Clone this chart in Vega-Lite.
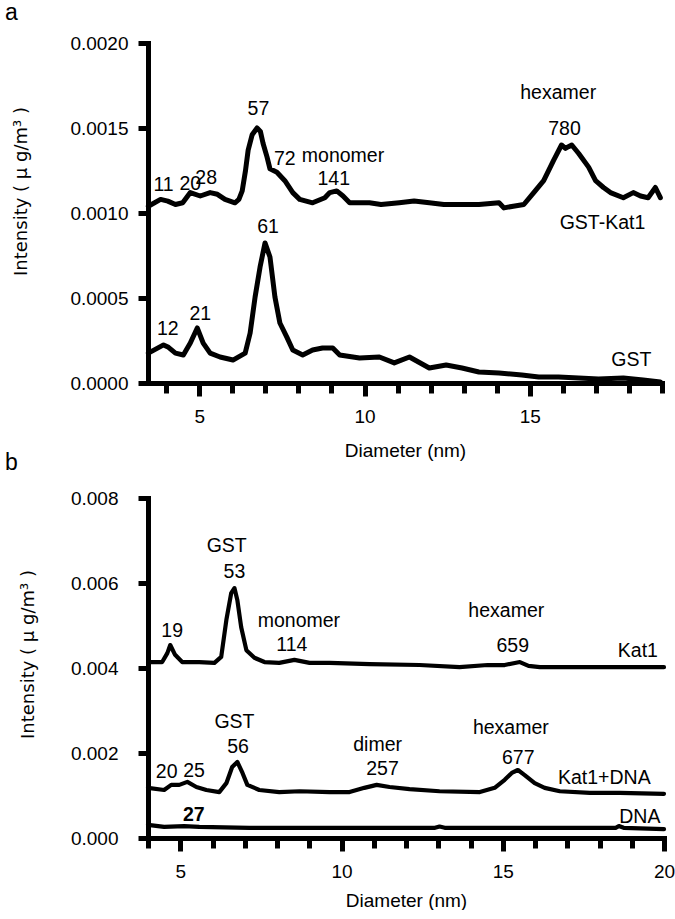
{
  "$schema": "https://vega.github.io/schema/vega-lite/v6.json",
  "padding": {"left": 5, "top": 2, "right": 0, "bottom": 0},
  "background": "white",
  "config": {
    "font": "Liberation Sans",
    "view": {"stroke": null},
    "axis": {
      "domainColor": "black", "domainWidth": 5, "domainCap": "square",
      "tickColor": "black", "tickWidth": 5,
      "labelFont": "Liberation Sans", "labelFontSize": 19, "labelColor": "black",
      "titleFont": "Liberation Sans", "titleFontSize": 19, "titleFontWeight": "normal", "titleColor": "black",
      "grid": false, "labelFlush": false, "labelOverlap": false, "labelBound": false
    },
    "title": {"font": "Liberation Sans", "fontSize": 23, "fontWeight": "normal", "color": "black", "anchor": "start", "frame": "group", "offset": 0}
  },
  "datasets": {
    "a_lines": [
      {"series": "GST-Kat1", "d": 3.46, "v": 0.00104},
      {"series": "GST-Kat1", "d": 3.83, "v": 0.00108},
      {"series": "GST-Kat1", "d": 4.05, "v": 0.00107},
      {"series": "GST-Kat1", "d": 4.28, "v": 0.00105},
      {"series": "GST-Kat1", "d": 4.5, "v": 0.00106},
      {"series": "GST-Kat1", "d": 4.73, "v": 0.00112},
      {"series": "GST-Kat1", "d": 5.03, "v": 0.0011},
      {"series": "GST-Kat1", "d": 5.33, "v": 0.00112},
      {"series": "GST-Kat1", "d": 5.55, "v": 0.00111},
      {"series": "GST-Kat1", "d": 5.78, "v": 0.00108},
      {"series": "GST-Kat1", "d": 6.08, "v": 0.00106},
      {"series": "GST-Kat1", "d": 6.2, "v": 0.00108},
      {"series": "GST-Kat1", "d": 6.3, "v": 0.00113},
      {"series": "GST-Kat1", "d": 6.4, "v": 0.00125},
      {"series": "GST-Kat1", "d": 6.48, "v": 0.00137},
      {"series": "GST-Kat1", "d": 6.6, "v": 0.00146},
      {"series": "GST-Kat1", "d": 6.75, "v": 0.0015},
      {"series": "GST-Kat1", "d": 6.85, "v": 0.00148},
      {"series": "GST-Kat1", "d": 6.93, "v": 0.00141},
      {"series": "GST-Kat1", "d": 7.05, "v": 0.00133},
      {"series": "GST-Kat1", "d": 7.14, "v": 0.00126},
      {"series": "GST-Kat1", "d": 7.35, "v": 0.00124},
      {"series": "GST-Kat1", "d": 7.59, "v": 0.00119},
      {"series": "GST-Kat1", "d": 7.83, "v": 0.00112},
      {"series": "GST-Kat1", "d": 8.04, "v": 0.00108},
      {"series": "GST-Kat1", "d": 8.43, "v": 0.00106},
      {"series": "GST-Kat1", "d": 8.8, "v": 0.00109},
      {"series": "GST-Kat1", "d": 8.95, "v": 0.00112},
      {"series": "GST-Kat1", "d": 9.16, "v": 0.00113},
      {"series": "GST-Kat1", "d": 9.35, "v": 0.0011},
      {"series": "GST-Kat1", "d": 9.55, "v": 0.00106},
      {"series": "GST-Kat1", "d": 10.15, "v": 0.00106},
      {"series": "GST-Kat1", "d": 10.5, "v": 0.00105},
      {"series": "GST-Kat1", "d": 11.05, "v": 0.00106},
      {"series": "GST-Kat1", "d": 11.5, "v": 0.00107},
      {"series": "GST-Kat1", "d": 11.96, "v": 0.00106},
      {"series": "GST-Kat1", "d": 12.4, "v": 0.00105},
      {"series": "GST-Kat1", "d": 12.86, "v": 0.00105},
      {"series": "GST-Kat1", "d": 13.46, "v": 0.00105},
      {"series": "GST-Kat1", "d": 14.07, "v": 0.00106},
      {"series": "GST-Kat1", "d": 14.22, "v": 0.00103},
      {"series": "GST-Kat1", "d": 14.5, "v": 0.00104},
      {"series": "GST-Kat1", "d": 14.82, "v": 0.00105},
      {"series": "GST-Kat1", "d": 15.12, "v": 0.00112},
      {"series": "GST-Kat1", "d": 15.42, "v": 0.00119},
      {"series": "GST-Kat1", "d": 15.72, "v": 0.00131},
      {"series": "GST-Kat1", "d": 15.96, "v": 0.0014},
      {"series": "GST-Kat1", "d": 16.08, "v": 0.00138},
      {"series": "GST-Kat1", "d": 16.17, "v": 0.00139},
      {"series": "GST-Kat1", "d": 16.27, "v": 0.0014},
      {"series": "GST-Kat1", "d": 16.48, "v": 0.00135},
      {"series": "GST-Kat1", "d": 16.78, "v": 0.00127},
      {"series": "GST-Kat1", "d": 16.99, "v": 0.00119},
      {"series": "GST-Kat1", "d": 17.23, "v": 0.00115},
      {"series": "GST-Kat1", "d": 17.44, "v": 0.00112},
      {"series": "GST-Kat1", "d": 17.83, "v": 0.00109},
      {"series": "GST-Kat1", "d": 18.13, "v": 0.00112},
      {"series": "GST-Kat1", "d": 18.35, "v": 0.0011},
      {"series": "GST-Kat1", "d": 18.58, "v": 0.00109},
      {"series": "GST-Kat1", "d": 18.8, "v": 0.00115},
      {"series": "GST-Kat1", "d": 18.95, "v": 0.00109},
      {"series": "GST", "d": 3.46, "v": 0.000176},
      {"series": "GST", "d": 3.92, "v": 0.000224},
      {"series": "GST", "d": 4.07, "v": 0.00021},
      {"series": "GST", "d": 4.28, "v": 0.000176},
      {"series": "GST", "d": 4.52, "v": 0.000165},
      {"series": "GST", "d": 4.73, "v": 0.000235},
      {"series": "GST", "d": 4.94, "v": 0.000324},
      {"series": "GST", "d": 5.12, "v": 0.000235},
      {"series": "GST", "d": 5.33, "v": 0.000176},
      {"series": "GST", "d": 5.63, "v": 0.000153},
      {"series": "GST", "d": 6.02, "v": 0.000135},
      {"series": "GST", "d": 6.39, "v": 0.000176},
      {"series": "GST", "d": 6.54, "v": 0.000294},
      {"series": "GST", "d": 6.69, "v": 0.000506},
      {"series": "GST", "d": 6.84, "v": 0.000682},
      {"series": "GST", "d": 6.99, "v": 0.000824},
      {"series": "GST", "d": 7.14, "v": 0.000741},
      {"series": "GST", "d": 7.29, "v": 0.000506},
      {"series": "GST", "d": 7.44, "v": 0.000353},
      {"series": "GST", "d": 7.65, "v": 0.00027},
      {"series": "GST", "d": 7.83, "v": 0.000194},
      {"series": "GST", "d": 8.13, "v": 0.000165},
      {"series": "GST", "d": 8.43, "v": 0.000194},
      {"series": "GST", "d": 8.73, "v": 0.000206},
      {"series": "GST", "d": 9.04, "v": 0.000206},
      {"series": "GST", "d": 9.25, "v": 0.000165},
      {"series": "GST", "d": 9.85, "v": 0.000147},
      {"series": "GST", "d": 10.45, "v": 0.000153},
      {"series": "GST", "d": 10.9, "v": 0.000118},
      {"series": "GST", "d": 11.36, "v": 0.000153},
      {"series": "GST", "d": 11.96, "v": 0.000088},
      {"series": "GST", "d": 12.47, "v": 0.000106},
      {"series": "GST", "d": 12.95, "v": 0.000088},
      {"series": "GST", "d": 13.46, "v": 0.000065},
      {"series": "GST", "d": 14.07, "v": 0.000059},
      {"series": "GST", "d": 14.76, "v": 0.000047},
      {"series": "GST", "d": 15.27, "v": 0.000035},
      {"series": "GST", "d": 15.87, "v": 0.000035},
      {"series": "GST", "d": 16.48, "v": 0.00003},
      {"series": "GST", "d": 17.08, "v": 0.000024},
      {"series": "GST", "d": 17.83, "v": 0.00003},
      {"series": "GST", "d": 18.43, "v": 0.000018},
      {"series": "GST", "d": 18.95, "v": 0.000006}
    ],
    "a_text": [
      {"d": 3.92, "v": 0.001165, "label": "11"},
      {"d": 4.73, "v": 0.001168, "label": "20"},
      {"d": 5.21, "v": 0.001206, "label": "28"},
      {"d": 6.79, "v": 0.001609, "label": "57"},
      {"d": 7.59, "v": 0.001315, "label": "72"},
      {"d": 9.35, "v": 0.001335, "label": "monomer"},
      {"d": 9.07, "v": 0.0012, "label": "141"},
      {"d": 15.86, "v": 0.001706, "label": "hexamer"},
      {"d": 16.05, "v": 0.001497, "label": "780"},
      {"d": 17.2, "v": 0.000944, "label": "GST-Kat1"},
      {"d": 7.08, "v": 0.000918, "label": "61"},
      {"d": 4.05, "v": 0.000315, "label": "12"},
      {"d": 5.03, "v": 0.000403, "label": "21"},
      {"d": 18.07, "v": 0.000135, "label": "GST"}
    ],
    "b_lines": [
      {"series": "Kat1", "d": 4.0, "v": 0.00414},
      {"series": "Kat1", "d": 4.44, "v": 0.00414},
      {"series": "Kat1", "d": 4.6, "v": 0.00435},
      {"series": "Kat1", "d": 4.69, "v": 0.00454},
      {"series": "Kat1", "d": 4.84, "v": 0.00431},
      {"series": "Kat1", "d": 5.06, "v": 0.00414},
      {"series": "Kat1", "d": 5.59, "v": 0.00414},
      {"series": "Kat1", "d": 6.06, "v": 0.00412},
      {"series": "Kat1", "d": 6.27, "v": 0.00426},
      {"series": "Kat1", "d": 6.43, "v": 0.00513},
      {"series": "Kat1", "d": 6.58, "v": 0.00576},
      {"series": "Kat1", "d": 6.68, "v": 0.00588},
      {"series": "Kat1", "d": 6.77, "v": 0.0056},
      {"series": "Kat1", "d": 6.89, "v": 0.00496},
      {"series": "Kat1", "d": 7.05, "v": 0.00442},
      {"series": "Kat1", "d": 7.3, "v": 0.00424},
      {"series": "Kat1", "d": 7.61, "v": 0.00414},
      {"series": "Kat1", "d": 8.07, "v": 0.00412},
      {"series": "Kat1", "d": 8.54, "v": 0.00419},
      {"series": "Kat1", "d": 9.01, "v": 0.00412},
      {"series": "Kat1", "d": 9.63, "v": 0.00412},
      {"series": "Kat1", "d": 10.87, "v": 0.00409},
      {"series": "Kat1", "d": 12.42, "v": 0.00407},
      {"series": "Kat1", "d": 13.66, "v": 0.00402},
      {"series": "Kat1", "d": 14.53, "v": 0.00407},
      {"series": "Kat1", "d": 15.06, "v": 0.00407},
      {"series": "Kat1", "d": 15.53, "v": 0.00414},
      {"series": "Kat1", "d": 15.8, "v": 0.00405},
      {"series": "Kat1", "d": 16.15, "v": 0.00402},
      {"series": "Kat1", "d": 18.01, "v": 0.00402},
      {"series": "Kat1", "d": 20.0, "v": 0.00402},
      {"series": "Kat1+DNA", "d": 4.0, "v": 0.00118},
      {"series": "Kat1+DNA", "d": 4.5, "v": 0.00113},
      {"series": "Kat1+DNA", "d": 4.72, "v": 0.00125},
      {"series": "Kat1+DNA", "d": 4.97, "v": 0.00125},
      {"series": "Kat1+DNA", "d": 5.22, "v": 0.00132},
      {"series": "Kat1+DNA", "d": 5.5, "v": 0.0012},
      {"series": "Kat1+DNA", "d": 5.81, "v": 0.00113},
      {"series": "Kat1+DNA", "d": 6.21, "v": 0.00108},
      {"series": "Kat1+DNA", "d": 6.43, "v": 0.00129},
      {"series": "Kat1+DNA", "d": 6.61, "v": 0.00167},
      {"series": "Kat1+DNA", "d": 6.77, "v": 0.00179},
      {"series": "Kat1+DNA", "d": 6.93, "v": 0.00153},
      {"series": "Kat1+DNA", "d": 7.08, "v": 0.00125},
      {"series": "Kat1+DNA", "d": 7.45, "v": 0.00113},
      {"series": "Kat1+DNA", "d": 8.07, "v": 0.00108},
      {"series": "Kat1+DNA", "d": 8.7, "v": 0.0011},
      {"series": "Kat1+DNA", "d": 9.63, "v": 0.00108},
      {"series": "Kat1+DNA", "d": 10.25, "v": 0.00108},
      {"series": "Kat1+DNA", "d": 10.71, "v": 0.00118},
      {"series": "Kat1+DNA", "d": 11.09, "v": 0.00125},
      {"series": "Kat1+DNA", "d": 11.49, "v": 0.0012},
      {"series": "Kat1+DNA", "d": 12.11, "v": 0.00115},
      {"series": "Kat1+DNA", "d": 13.04, "v": 0.0011},
      {"series": "Kat1+DNA", "d": 14.29, "v": 0.00108},
      {"series": "Kat1+DNA", "d": 14.75, "v": 0.00118},
      {"series": "Kat1+DNA", "d": 15.06, "v": 0.00137},
      {"series": "Kat1+DNA", "d": 15.28, "v": 0.00153},
      {"series": "Kat1+DNA", "d": 15.47, "v": 0.0016},
      {"series": "Kat1+DNA", "d": 15.68, "v": 0.00148},
      {"series": "Kat1+DNA", "d": 15.99, "v": 0.00129},
      {"series": "Kat1+DNA", "d": 16.3, "v": 0.00118},
      {"series": "Kat1+DNA", "d": 16.77, "v": 0.0011},
      {"series": "Kat1+DNA", "d": 17.7, "v": 0.00106},
      {"series": "Kat1+DNA", "d": 18.63, "v": 0.00106},
      {"series": "Kat1+DNA", "d": 20.0, "v": 0.00104},
      {"series": "DNA", "d": 4.0, "v": 0.00031},
      {"series": "DNA", "d": 4.5, "v": 0.00026},
      {"series": "DNA", "d": 5.12, "v": 0.00028},
      {"series": "DNA", "d": 5.59, "v": 0.00026},
      {"series": "DNA", "d": 7.14, "v": 0.00024},
      {"series": "DNA", "d": 9.63, "v": 0.00024},
      {"series": "DNA", "d": 12.9, "v": 0.00024},
      {"series": "DNA", "d": 13.04, "v": 0.00027},
      {"series": "DNA", "d": 13.2, "v": 0.00024},
      {"series": "DNA", "d": 16.5, "v": 0.00024},
      {"series": "DNA", "d": 18.5, "v": 0.00024},
      {"series": "DNA", "d": 18.6, "v": 0.00028},
      {"series": "DNA", "d": 18.75, "v": 0.00024},
      {"series": "DNA", "d": 20.0, "v": 0.00021}
    ],
    "b_text": [
      {"d": 4.75, "v": 0.00487, "label": "19"},
      {"d": 6.44, "v": 0.00687, "label": "GST"},
      {"d": 6.68, "v": 0.00626, "label": "53"},
      {"d": 8.68, "v": 0.00511, "label": "monomer"},
      {"d": 8.46, "v": 0.00454, "label": "114"},
      {"d": 15.11, "v": 0.00534, "label": "hexamer"},
      {"d": 15.31, "v": 0.00452, "label": "659"},
      {"d": 19.19, "v": 0.0044, "label": "Kat1"},
      {"d": 6.68, "v": 0.00273, "label": "GST"},
      {"d": 6.79, "v": 0.00214, "label": "56"},
      {"d": 4.58, "v": 0.00155, "label": "20"},
      {"d": 5.43, "v": 0.00157, "label": "25"},
      {"d": 5.42, "v": 0.00054, "label": "27"},
      {"d": 11.12, "v": 0.00219, "label": "dimer"},
      {"d": 11.27, "v": 0.00162, "label": "257"},
      {"d": 15.25, "v": 0.00259, "label": "hexamer"},
      {"d": 15.48, "v": 0.00188, "label": "677"},
      {"d": 18.15, "v": 0.00141, "label": "Kat1+DNA"},
      {"d": 19.25, "v": 0.00049, "label": "DNA"}
    ]
  },
  "bounds": "flush",
  "spacing": 115,
  "vconcat": [
    {
      "width": 514,
      "height": 340,
      "title": {"text": "a", "dx": -143, "dy": -5},
      "layer": [
        {
          "data": {"name": "a_lines"},
          "mark": {"type": "line", "color": "black", "strokeWidth": 5, "strokeJoin": "round", "strokeCap": "round"},
          "encoding": {
            "x": {"field": "d", "type": "quantitative", "scale": {"domain": [3.45, 19], "nice": false, "zero": false},
              "axis": {"orient": "bottom", "values": [5, 10, 15], "format": "d", "tickSize": 13, "labelPadding": 11, "title": "Diameter (nm)", "titlePadding": 15}},
            "y": {"field": "v", "type": "quantitative", "scale": {"domain": [0, 0.002], "nice": false},
              "axis": {"values": [0, 0.0005, 0.001, 0.0015, 0.002], "format": ".4f", "tickSize": 10, "labelPadding": 10,
                "title": "Intensity ( μ g/m³ )", "titleFont": "DejaVu Sans", "titleFontSize": 18, "titleX": -122, "titleY": 148, "titleAngle": -90, "titleAlign": "center", "titleBaseline": "alphabetic"}},
            "detail": {"field": "series"}
          }
        },
        {
          "data": {"name": "a_text"},
          "mark": {"type": "text", "fontSize": 19.5, "baseline": "middle", "align": "center", "color": "black"},
          "encoding": {
            "x": {"field": "d", "type": "quantitative",
              "axis": {"orient": "bottom", "values": [4, 5, 6, 7, 8, 9, 10, 11, 12, 13, 14, 15, 16, 17, 18, 19], "tickSize": 10, "labels": false, "domain": false, "title": null}},
            "y": {"field": "v", "type": "quantitative"},
            "text": {"field": "label"}
          }
        }
      ],
      "resolve": {"axis": {"x": "independent"}}
    },
    {
      "width": 516,
      "height": 340,
      "title": {"text": "b", "dx": -143, "dy": -10},
      "layer": [
        {
          "data": {"name": "b_lines"},
          "mark": {"type": "line", "color": "black", "strokeJoin": "round", "strokeCap": "round"},
          "encoding": {
            "x": {"field": "d", "type": "quantitative", "scale": {"domain": [4, 20], "nice": false, "zero": false},
              "axis": {"orient": "bottom", "values": [5, 10, 15, 20], "format": "d", "tickSize": 13, "labelPadding": 11, "title": "Diameter (nm)", "titlePadding": 10}},
            "y": {"field": "v", "type": "quantitative", "scale": {"domain": [0, 0.008], "nice": false},
              "axis": {"values": [0, 0.002, 0.004, 0.006, 0.008], "format": ".3f", "tickSize": 10, "labelPadding": 20,
                "title": "Intensity ( μ g/m³ )", "titleFont": "DejaVu Sans", "titleFontSize": 18, "titleX": -115, "titleY": 156, "titleAngle": -90, "titleAlign": "center", "titleBaseline": "alphabetic"}},
            "detail": {"field": "series"},
            "strokeWidth": {"field": "series", "type": "nominal", "scale": {"domain": ["Kat1", "Kat1+DNA", "DNA"], "range": [4.2, 4.2, 2.8]}, "legend": null}
          }
        },
        {
          "data": {"name": "b_text"},
          "transform": [{"filter": "datum.label !== '27'"}],
          "mark": {"type": "text", "fontSize": 19.5, "baseline": "middle", "align": "center", "color": "black"},
          "encoding": {
            "x": {"field": "d", "type": "quantitative",
              "axis": {"orient": "bottom", "values": [4, 5, 6, 7, 8, 9, 10, 11, 12, 13, 14, 15, 16, 17, 18, 19, 20], "tickSize": 10, "labels": false, "domain": false, "title": null}},
            "y": {"field": "v", "type": "quantitative"},
            "text": {"field": "label"}
          }
        },
        {
          "data": {"name": "b_text"},
          "transform": [{"filter": "datum.label === '27'"}],
          "mark": {"type": "text", "fontSize": 19.5, "fontWeight": "bold", "baseline": "middle", "align": "center", "color": "black"},
          "encoding": {
            "x": {"field": "d", "type": "quantitative", "axis": null},
            "y": {"field": "v", "type": "quantitative"},
            "text": {"field": "label"}
          }
        }
      ],
      "resolve": {"axis": {"x": "independent"}}
    }
  ]
}
